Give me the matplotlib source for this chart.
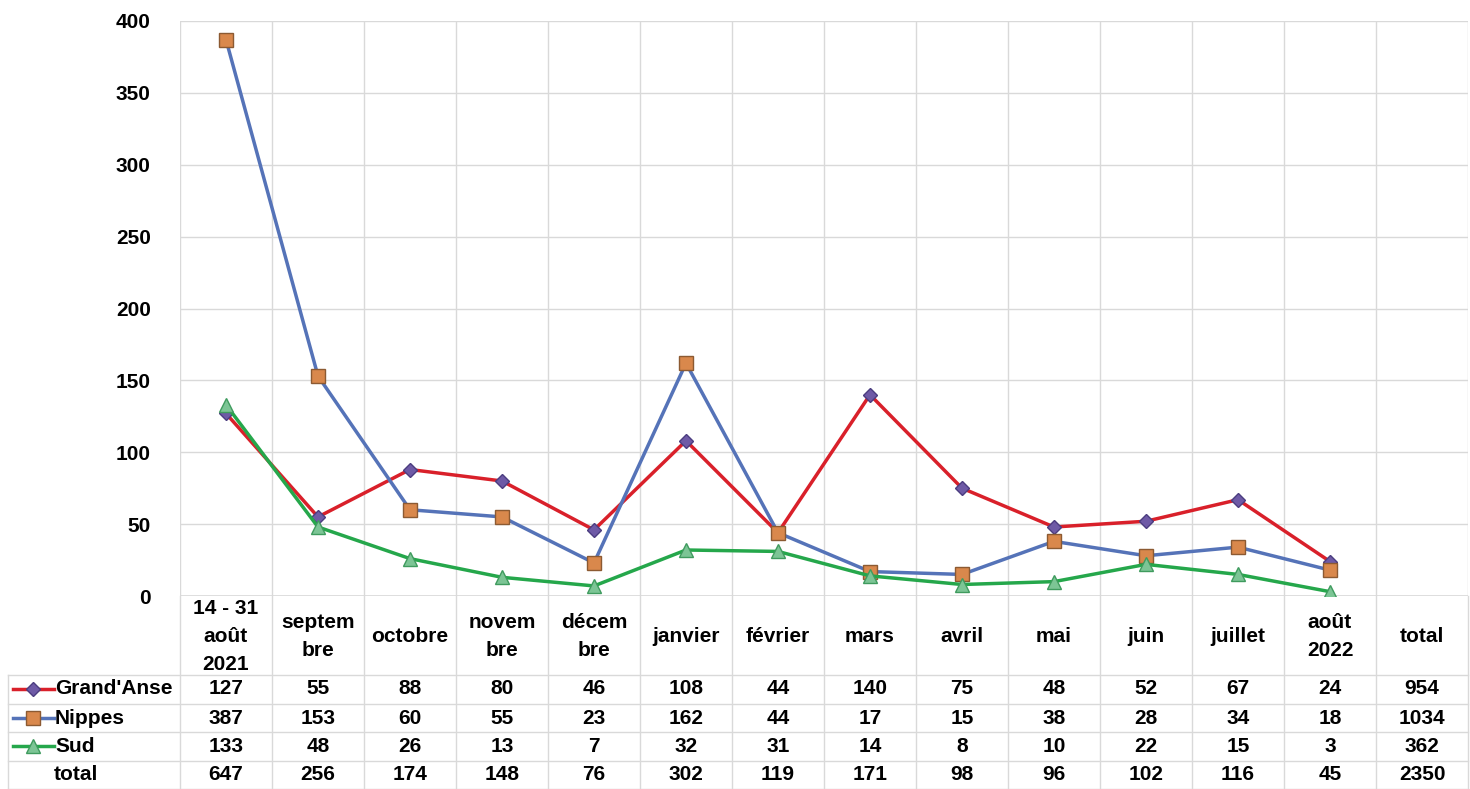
#!/usr/bin/env python3
"""Line chart with Excel-style data table: cases by month and department."""

import matplotlib

matplotlib.use("Agg")
import matplotlib.pyplot as plt
import matplotlib.transforms as mtransforms
from matplotlib.lines import Line2D
import numpy as np

plt.rcParams["font.family"] = ["Liberation Sans", "DejaVu Sans"]

categories = ["14 - 31\naoût\n2021", "septem\nbre", "octobre", "novem\nbre", "décem\nbre",
              "janvier", "février", "mars", "avril", "mai", "juin", "juillet",
              "août\n2022", "total"]
grand_anse = [127, 55, 88, 80, 46, 108, 44, 140, 75, 48, 52, 67, 24, 954]
nippes = [387, 153, 60, 55, 23, 162, 44, 17, 15, 38, 28, 34, 18, 1034]
sud = [133, 48, 26, 13, 7, 32, 31, 14, 8, 10, 22, 15, 3, 362]
total = [647, 256, 174, 148, 76, 302, 119, 171, 98, 96, 102, 116, 45, 2350]
yticks = [0, 50, 100, 150, 200, 250, 300, 350, 400]

W, H = 1470, 789
GRID = "#d9d9d9"
FS = 15

series = [
    ("Grand'Anse", grand_anse, dict(color="#d9202a", marker="D", markersize=7,
                                    markerfacecolor="#6e5aa6", markeredgecolor="#4b3d80")),
    ("Nippes", nippes, dict(color="#5573b8", marker="s", markersize=10,
                            markerfacecolor="#d9884c", markeredgecolor="#8c5a32")),
    ("Sud", sud, dict(color="#25a74b", marker="^", markersize=9.5,
                      markerfacecolor="#7cc595", markeredgecolor="#3f9b5e")),
]

fig = plt.figure(figsize=(W / 100, H / 100), dpi=100)
left, right, top, bottom = 180, 1468, 21, 596
ax = fig.add_axes([left / W, 1 - bottom / H, (right - left) / W, (bottom - top) / H])

n = len(categories)
x = np.arange(n)
months = n - 1  # the total column has no point on the chart
for name, vals, style in series:
    ax.plot(x[:months], vals[:months], linewidth=2.5, zorder=3, **style)

ax.set_xlim(-0.5, n - 0.5)
ax.set_ylim(0, 400)
ax.set_yticks(yticks)
ax.set_yticklabels([str(v) for v in yticks], fontsize=FS, fontweight="bold")
ax.tick_params(axis="y", length=0, pad=21)
ax.set_xticks(np.arange(n + 1) - 0.5)
ax.set_xticklabels([])
ax.tick_params(axis="x", length=0)
ax.grid(True, color=GRID, linewidth=1)
for s in ax.spines.values():
    s.set_visible(False)
ax.axhline(0, color=GRID, linewidth=1.2)

# data table below the plot
trans = mtransforms.blended_transform_factory(ax.transData, fig.transFigure)
def fy(py):
    return 1 - py / H

row_lines = [675, 704, 732, 761, 789]
row_text = [689, 718, 746, 775]
for xb in np.arange(n + 1) - 0.5:
    fig.add_artist(Line2D([xb, xb], [fy(bottom), fy(H)], transform=trans, color=GRID, lw=1))
for py in row_lines:
    fig.add_artist(Line2D([8 / W, right / W], [fy(py), fy(py)], transform=fig.transFigure,
                          color=GRID, lw=1))
fig.add_artist(Line2D([8 / W, 8 / W], [fy(675), fy(H)], transform=fig.transFigure, color=GRID, lw=1))

for i, lab in enumerate(categories):
    fig.text(i, fy(636), lab, transform=trans, ha="center", va="center",
             fontsize=FS, fontweight="bold", linespacing=1.6)

rows = [(name, vals, style) for name, vals, style in series] + [("total", total, None)]
for (name, vals, style), py in zip(rows, row_text):
    for i, v in enumerate(vals):
        fig.text(i, fy(py), str(v), transform=trans, ha="center", va="center",
                 fontsize=FS, fontweight="bold")
    if style is None:
        fig.text(76 / W, fy(py), name, ha="center", va="center", fontsize=FS, fontweight="bold")
    else:
        fig.add_artist(Line2D([13 / W, 33 / W, 54 / W], [fy(py)] * 3, transform=fig.transFigure,
                              linewidth=2.5, markevery=[1], **style))
        fig.text(55 / W, fy(py), name, ha="left", va="center", fontsize=FS, fontweight="bold")

fig.savefig("out.png", dpi=100)
